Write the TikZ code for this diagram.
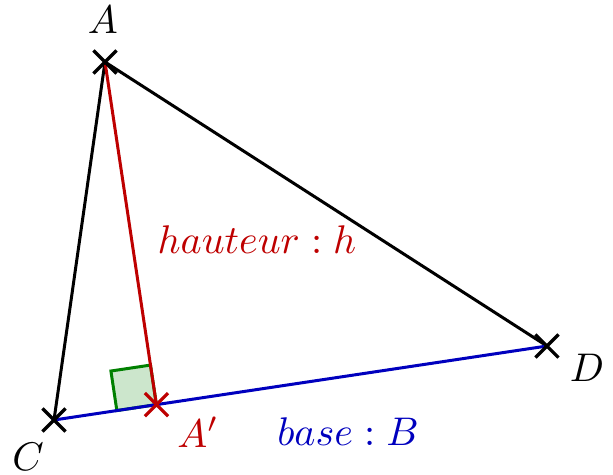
\documentclass[tikz,border=0pt]{standalone}
\usetikzlibrary{calc,shapes.misc}
\definecolor{myred}{RGB}{190,0,0}
\definecolor{myblue}{RGB}{0,0,190}
\definecolor{mygreen}{RGB}{0,128,0}
\begin{document}
\begin{tikzpicture}[x=0.25pt,y=-0.25pt,line width=0.75pt,
  crossmark/.style={cross out,draw,minimum size=5pt,inner sep=0pt,line width=0.8pt},
  lbl/.style={inner sep=0pt,anchor=center}]
\useasboundingbox (0,0) rectangle (613,474);
\coordinate (A) at (105,62);
\coordinate (C) at (54,420);
\coordinate (D) at (547,346);
\coordinate (Ap) at ($(C)!(A)!(D)$);
\coordinate (P1) at ($(Ap)!10pt!(C)$);
\coordinate (P3) at ($(Ap)!10pt!(A)$);
\coordinate (P2) at ($(P1)+(P3)-(Ap)$);
\filldraw[fill=mygreen!20,draw=mygreen] (Ap) -- (P1) -- (P2) -- (P3) -- cycle;
\draw (A) -- (C);
\draw (A) -- (D);
\draw[myred] (A) -- (Ap);
\draw[myblue] (C) -- (D);
\node[crossmark] (mA) at (A) {};
\node[crossmark] (mC) at (C) {};
\node[crossmark] (mD) at (D) {};
\node[crossmark,myred] (mAp) at (Ap) {};
\node[lbl] (lA) at (103,20) {$A$};
\node[lbl] (lC) at (28,457) {$C$};
\node[lbl] (lD) at (587,368) {$D$};
\node[lbl,myred] (lAp) at (198,432) {$A'$};
\node[lbl,myred] (lh) at (257,240) {$hauteur : h$};
\node[lbl,myblue] (lB) at (348,432) {$base : B$};
\end{tikzpicture}
\end{document}
